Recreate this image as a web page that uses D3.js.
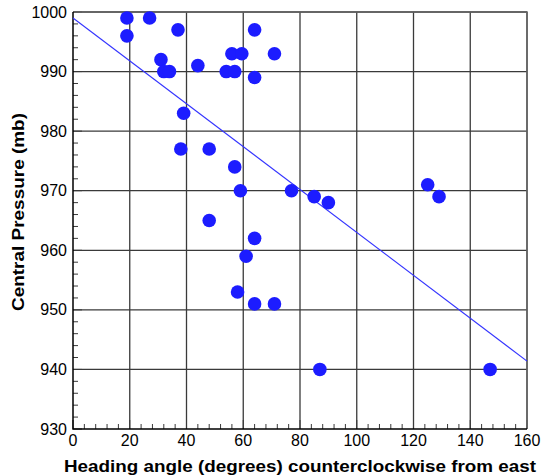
<!doctype html>
<html lang='en'>
<head>
    <meta charset='utf-8'>
    <title>Central pressure vs heading</title>
    <script src='https://cdn.jsdelivr.net/npm/d3@7/dist/d3.min.js'></script>
    <style>
        body { margin: 0; background: white; }
        text { font-family: Arial, 'Liberation Sans', sans-serif; fill: black; }
        .tick-label { font-size: 16px; }
        .axis-title { font-size: 17px; font-weight: bold; }
        .grid { stroke: #3a3a3a; stroke-width: 1.3px; }
        .minor { stroke: #3a3a3a; stroke-width: 1px; }
    </style>
</head>
<body>
<svg id='chart' width='541' height='476'></svg>
<script>
    // heading angle (deg) and central pressure (mb)
    const heading = [19, 27, 19, 37, 31, 32, 34, 44, 39, 38, 64, 56, 59.5, 71, 54, 57, 64, 48,
                     57, 59, 77, 85, 90, 48, 64, 61, 58, 64, 71, 87, 125, 129, 147];
    const pressure = [999, 999, 996, 997, 992, 990, 990, 991, 983, 977, 997, 993, 993, 993, 990, 990, 989, 977,
                      974, 970, 970, 969, 968, 965, 962, 959, 953, 951, 951, 940, 971, 969, 940];
    // fitted trend line end points
    const fitX = [0, 160];
    const fitY = [999, 941.4];

    const xTicks = [0, 20, 40, 60, 80, 100, 120, 140, 160];
    const yTicks = [930, 940, 950, 960, 970, 980, 990, 1000];

    const plotLeft = 73, plotRight = 527, plotTop = 12, plotBottom = 429;
    const svg = d3.select('#chart');

    const x = d3.scaleLinear().domain([0, 160]).range([plotLeft, plotRight]);
    const y = d3.scaleLinear().domain([930, 1000]).range([plotBottom, plotTop]);

    // grid lines at the major ticks
    svg.append('g').selectAll('line')
        .data(xTicks.slice(1))
        .enter().append('line')
        .attr('class', 'grid')
        .attr('x1', d => x(d)).attr('x2', d => x(d))
        .attr('y1', plotTop).attr('y2', plotBottom);

    svg.append('g').selectAll('line')
        .data(yTicks.slice(1))
        .enter().append('line')
        .attr('class', 'grid')
        .attr('x1', plotLeft).attr('x2', plotRight)
        .attr('y1', d => y(d)).attr('y2', d => y(d));

    // minor ticks pointing inward
    svg.append('g').selectAll('line')
        .data(d3.range(0, 161, 4))
        .enter().append('line')
        .attr('class', 'minor')
        .attr('x1', d => x(d)).attr('x2', d => x(d))
        .attr('y1', plotBottom).attr('y2', d => plotBottom - (d % 20 === 0 ? 9 : 5));

    svg.append('g').selectAll('line')
        .data(d3.range(930, 1001, 2))
        .enter().append('line')
        .attr('class', 'minor')
        .attr('x1', plotLeft).attr('x2', d => plotLeft + (d % 10 === 0 ? 9 : 5))
        .attr('y1', d => y(d)).attr('y2', d => y(d));

    // frame
    svg.append('path')
        .attr('d', `M${plotLeft},${plotTop}H${plotRight}V${plotBottom}`)
        .attr('fill', 'none').attr('stroke', '#666').attr('stroke-width', 1.5);
    svg.append('path')
        .attr('d', `M${plotLeft},${plotTop}V${plotBottom}H${plotRight}`)
        .attr('fill', 'none').attr('stroke', 'black').attr('stroke-width', 1.5);

    // tick labels
    svg.append('g').selectAll('text')
        .data(xTicks)
        .enter().append('text')
        .attr('class', 'tick-label')
        .attr('x', d => x(d)).attr('y', plotBottom + 17)
        .attr('text-anchor', 'middle')
        .text(d => d);

    svg.append('g').selectAll('text')
        .data(yTicks)
        .enter().append('text')
        .attr('class', 'tick-label')
        .attr('x', plotLeft - 6).attr('y', d => y(d) + 5.5)
        .attr('text-anchor', 'end')
        .text(d => d);

    // axis titles (the original is a little stretched sideways)
    svg.append('text')
        .attr('class', 'axis-title')
        .attr('x', 300).attr('y', 472)
        .attr('text-anchor', 'middle')
        .attr('textLength', 472)
        .attr('lengthAdjust', 'spacingAndGlyphs')
        .text('Heading angle (degrees) counterclockwise from east');

    svg.append('text')
        .attr('class', 'axis-title')
        .attr('transform', 'translate(24,212) rotate(-90)')
        .attr('text-anchor', 'middle')
        .attr('textLength', 198)
        .attr('lengthAdjust', 'spacingAndGlyphs')
        .text('Central Pressure (mb)');

    // trend line
    svg.append('line')
        .attr('x1', x(fitX[0])).attr('y1', y(fitY[0]))
        .attr('x2', x(fitX[1])).attr('y2', y(fitY[1]))
        .attr('stroke', '#3333ff').attr('stroke-width', 1.1);

    // points
    svg.append('g').selectAll('circle')
        .data(d3.range(heading.length))
        .enter().append('circle')
        .attr('cx', i => x(heading[i]))
        .attr('cy', i => y(pressure[i]))
        .attr('r', 6.8)
        .attr('fill', '#1c1cff');
</script>
</body>
</html>
